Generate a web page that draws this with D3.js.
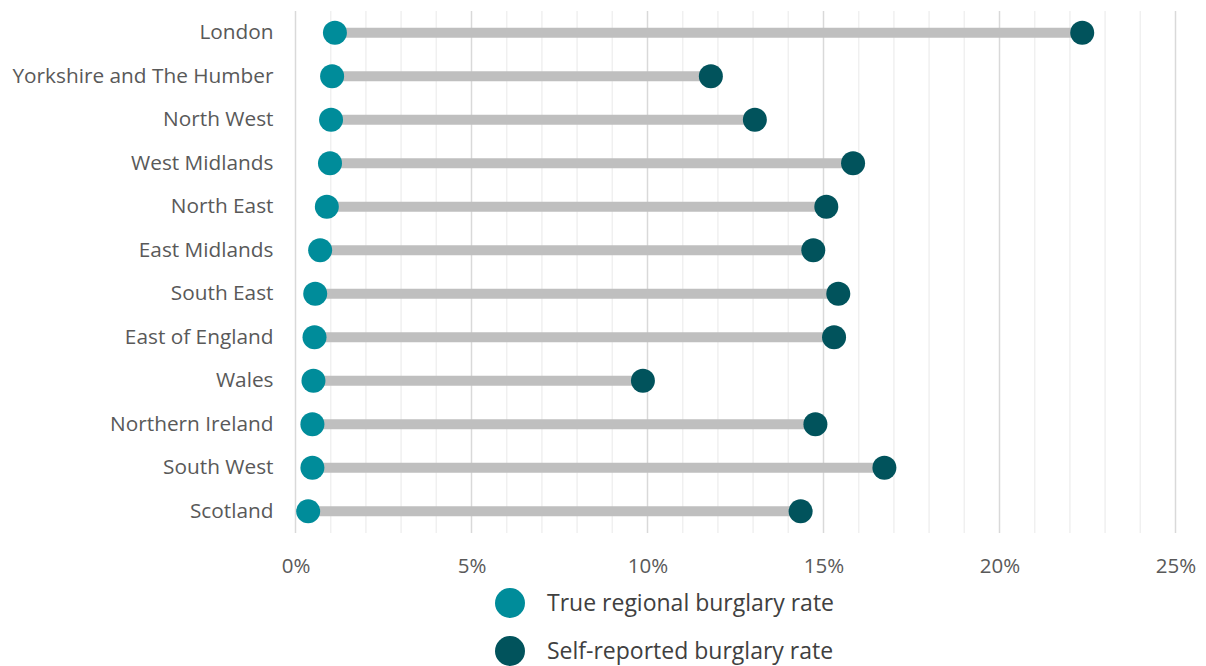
<!DOCTYPE html>
<html>
<head>
<meta charset="utf-8">
<script src="https://cdn.jsdelivr.net/npm/d3@7"></script>
<style>
  html, body { margin: 0; padding: 0; background: #fff; }
  svg { display: block; font-family: "Open Sans", Lato, sans-serif; }
</style>
</head>
<body>
<svg id="chart" width="1206" height="666"></svg>
<script>
// Regions, top to bottom
const regions = [
  "London", "Yorkshire and The Humber", "North West", "West Midlands",
  "North East", "East Midlands", "South East", "East of England",
  "Wales", "Northern Ireland", "South West", "Scotland"
];
// True regional burglary rate (%)
const trueRate = [1.12, 1.04, 1.01, 0.98, 0.89, 0.70, 0.56, 0.54, 0.51, 0.48, 0.48, 0.36];
// Self-reported burglary rate (%)
const selfRate = [22.35, 11.80, 13.05, 15.84, 15.08, 14.71, 15.42, 15.30, 9.87, 14.77, 16.73, 14.35];
// Axis ticks (%)
const majorTicks = [0, 5, 10, 15, 20, 25];
const minorTicks = d3.range(0, 26, 1);
const seriesNames = ["True regional burglary rate", "Self-reported burglary rate"];

const colTrue = "#008C9A", colSelf = "#01535C";
const font = "'Open Sans', Lato, sans-serif";

const svg = d3.select("#chart");
const plotLeft = 295.5, plotRight = 1175.5, plotTop = 11, plotBottom = 533;

const x = d3.scaleLinear().domain([0, 25]).range([plotLeft, plotRight]);
const y = d3.scaleBand().domain(regions).range([plotTop, plotBottom]);

// Minor gridlines
svg.append("g").selectAll("line")
  .data(minorTicks.filter(t => t % 5 !== 0))
  .join("line")
  .attr("x1", d => x(d)).attr("x2", d => x(d))
  .attr("y1", plotTop).attr("y2", plotBottom)
  .attr("stroke", "#f0f0f0").attr("stroke-width", 1.5);

// Major gridlines
svg.append("g").selectAll("line")
  .data(majorTicks)
  .join("line")
  .attr("x1", d => x(d)).attr("x2", d => x(d))
  .attr("y1", plotTop).attr("y2", plotBottom)
  .attr("stroke", "#d9d9d9").attr("stroke-width", 1.5);

// X axis labels
const xAxis = d3.axisBottom(x).tickValues(majorTicks).tickFormat(d => d + "%").tickSize(0).tickPadding(0);
const gx = svg.append("g").attr("transform", `translate(0, 573)`).call(xAxis);
gx.select(".domain").remove();
gx.selectAll("text").attr("font-size", 20.5).attr("fill", "#595959")
  .attr("font-family", font).attr("dy", 0);

// Y axis labels
const yAxis = d3.axisLeft(y).tickSize(0).tickPadding(22);
const gy = svg.append("g").attr("transform", `translate(${plotLeft}, -1)`).call(yAxis);
gy.select(".domain").remove();
gy.selectAll("text").attr("font-size", 20.8).attr("fill", "#595959")
  .attr("font-family", font).attr("dy", "0.35em");

const rows = regions.map((r, i) => ({ r, t: trueRate[i], s: selfRate[i] }));
const cy = d => y(d.r) + y.bandwidth() / 2;

// Connector bars
svg.append("g").selectAll("line")
  .data(rows).join("line")
  .attr("x1", d => x(d.t)).attr("x2", d => x(d.s))
  .attr("y1", cy).attr("y2", cy)
  .attr("stroke", "#bfbfbf").attr("stroke-width", 10);

// Dots
svg.append("g").selectAll("circle")
  .data(rows).join("circle")
  .attr("cx", d => x(d.t)).attr("cy", cy).attr("r", 12).attr("fill", colTrue);
svg.append("g").selectAll("circle")
  .data(rows).join("circle")
  .attr("cx", d => x(d.s)).attr("cy", cy).attr("r", 12).attr("fill", colSelf);

// Legend
const legend = svg.append("g").selectAll("g")
  .data(seriesNames).join("g")
  .attr("transform", (d, i) => `translate(510, ${603 + i * 48})`);
legend.append("circle").attr("r", 15).attr("fill", (d, i) => i === 0 ? colTrue : colSelf);
legend.append("text").attr("x", 37).attr("dy", "0.35em")
  .attr("font-size", 23).attr("fill", "#404040")
  .attr("font-family", font)
  .text(d => d);
</script>
</body>
</html>
